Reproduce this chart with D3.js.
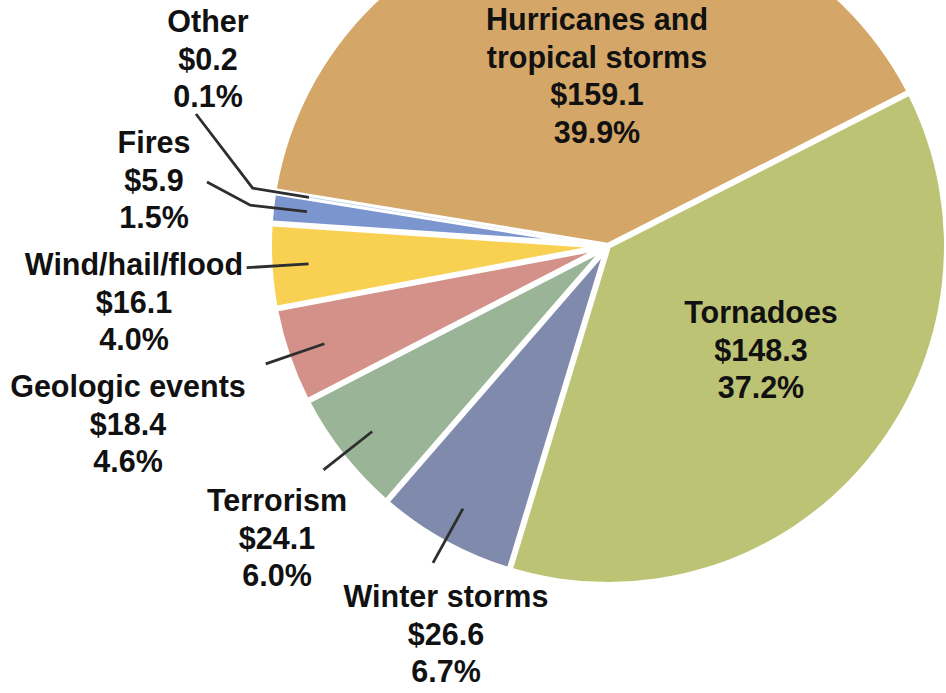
<!DOCTYPE html>
<html lang="en">
<head>
    <meta charset="UTF-8">
    <title>Insured losses by cause</title>
    <script src="https://d3js.org/d3.v7.min.js"></script>
    <style>
        body {
            margin: 0;
            background: #fff;
            font-family: "Liberation Sans", Arial, sans-serif;
        }
        .lbl {
            font-size: 30.5px;
            font-weight: bold;
            fill: #111;
            text-anchor: middle;
        }
        .leader {
            stroke: #2e2e2e;
            stroke-width: 2.8;
            fill: none;
        }
    </style>
</head>
<body>
    <div id="chart"></div>

    <script>
        // Data, clockwise from the tornado slice
        const categories = ["Tornadoes", "Winter storms", "Terrorism", "Geologic events",
            "Wind/hail/flood", "Fires", "Other", "Hurricanes and tropical storms"];
        const values = [148.3, 26.6, 24.1, 18.4, 16.1, 5.9, 0.2, 159.1];
        const shares = ["37.2%", "6.7%", "6.0%", "4.6%", "4.0%", "1.5%", "0.1%", "39.9%"];
        const colors = ["#bdc374", "#7f8aad", "#9ab497", "#d4918a",
            "#f9d152", "#7b95cf", "#b9d3ea", "#d4a768"];

        // Label layout: name lines, centre x, first baseline, leader style
        const nameLines = {
            "Hurricanes and tropical storms": ["Hurricanes and", "tropical storms"]
        };
        const labelPos = {
            "Tornadoes": { x: 761, y: 323, leader: null },
            "Winter storms": { x: 446, y: 607, leader: "radial" },
            "Terrorism": { x: 277, y: 511, leader: "radial" },
            "Geologic events": { x: 128, y: 397, leader: "radial" },
            "Wind/hail/flood": { x: 134, y: 275, leader: "radial" },
            "Fires": { x: 154, y: 153, leader: "elbow", end: [207, 182] },
            "Other": { x: 208, y: 32, leader: "elbow", end: [196, 114] },
            "Hurricanes and tropical storms": { x: 597, y: 30, leader: null }
        };

        const width = 946, height = 693;
        const cx = 608, cy = 246, radius = 336;
        const lineGap = 37.5;
        const pad = 0.018;

        const svg = d3.select("#chart").append("svg")
            .attr("width", width)
            .attr("height", height);

        const rows = categories.map((c, i) => ({ name: c, value: values[i], share: shares[i], color: colors[i] }));

        const startA = 63 * Math.PI / 180;
        const pie = d3.pie()
            .sort(null)
            .value(d => d.value)
            .startAngle(startA)
            .endAngle(startA + 2 * Math.PI);

        const padOf = d => d.data.name === "Other" ? 0 : pad;
        // inner radius where the two padded edges meet, so the gaps stay parallel
        const tipOf = d => {
            const half = radius * Math.sin(padOf(d) / 2);
            const a = (d.endAngle - d.startAngle) / 2;
            return Math.min(half / Math.sin(a) * 1.001, radius * 0.9);
        };

        const arc = d3.arc()
            .innerRadius(tipOf)
            .outerRadius(radius)
            .padRadius(radius)
            .padAngle(padOf);

        const arcs = pie(rows);
        const g = svg.append("g").attr("transform", `translate(${cx},${cy})`);

        g.selectAll("path.slice")
            .data(arcs)
            .enter().append("path")
            .attr("class", "slice")
            .attr("d", arc)
            .attr("fill", d => d.data.color);

        // point at radius r along the slice's middle angle
        function polar(d, r) {
            const a = (d.startAngle + d.endAngle) / 2;
            return [cx + r * Math.sin(a), cy - r * Math.cos(a)];
        }

        const line = d3.line();
        arcs.forEach(d => {
            const pos = labelPos[d.data.name];
            if (pos.leader === "radial") {
                svg.append("path").attr("class", "leader")
                    .attr("d", line([polar(d, 300), polar(d, 362)]));
            } else if (pos.leader === "elbow") {
                svg.append("path").attr("class", "leader")
                    .attr("d", line([polar(d, 303), polar(d, 360), pos.end]));
            }
        });

        // Labels
        arcs.forEach(d => {
            const pos = labelPos[d.data.name];
            const lines = (nameLines[d.data.name] || [d.data.name])
                .concat(["$" + d.data.value.toFixed(1), d.data.share]);
            const t = svg.append("text").attr("class", "lbl");
            lines.forEach((s, i) => {
                t.append("tspan")
                    .attr("x", pos.x)
                    .attr("y", pos.y + i * lineGap)
                    .text(s);
            });
        });
    </script>
</body>
</html>
